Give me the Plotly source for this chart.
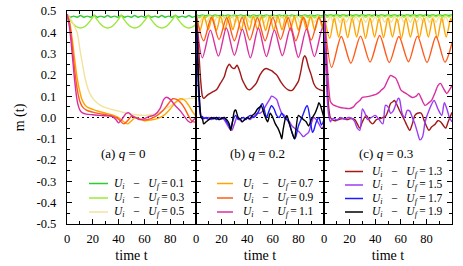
import plotly.graph_objects as go

# ---------------- data ----------------
U_VALUES = [0.1, 0.3, 0.5, 0.7, 0.9, 1.1, 1.3, 1.5, 1.7, 1.9]
PANEL_Q = ["0", "0.2", "0.3"]
X_TICKS = [0, 20, 40, 60, 80]
Y_TICKS = [-0.5, -0.4, -0.3, -0.2, -0.1, 0.0, 0.1, 0.2, 0.3, 0.4, 0.5]
Y_TICKTEXT = ["-0.5", "-0.4", "-0.3", "-0.2", "-0.1", "0.0", "0.1", "0.2", "0.3", "0.4", "0.5"]

T25 = [0, 2.5, 5, 7.5, 10, 12.5, 15, 17.5, 20, 22.5, 25, 27.5, 30, 32.5, 35, 37.5, 40, 42.5, 45, 47.5,
       50, 52.5, 55, 57.5, 60, 62.5, 65, 67.5, 70, 72.5, 75, 77.5, 80, 82.5, 85, 87.5, 90, 92.5, 95, 97.5, 100]

# panel (a) q = 0
a_t_01 = [0, 2.6, 5.2, 7.9, 10.5, 13.1, 15.7, 18.4, 21, 23.6, 26.2, 28.9, 31.5, 34.1, 36.7, 39.4, 42, 44.6, 47.2, 49.9,
          52.5, 55.1, 57.7, 60.4, 63, 65.6, 68.2, 70.9, 73.5, 76.1, 78.7, 81.4, 84, 86.6, 89.2, 91.9, 94.5, 97.1, 100]
a_m_01 = [0.485, 0.471, 0.476, 0.471, 0.479, 0.471, 0.476, 0.471, 0.479, 0.471,
          0.476, 0.471, 0.479, 0.471, 0.476, 0.471, 0.479, 0.471, 0.476, 0.471,
          0.479, 0.471, 0.476, 0.471, 0.479, 0.471, 0.476, 0.471, 0.479, 0.471,
          0.476, 0.471, 0.479, 0.471, 0.476, 0.471, 0.479, 0.471, 0.476]
a_t_03 = [0, 1, 2, 3.5, 5, 7, 10.5, 14, 16, 17.5, 19, 20,
          21, 22, 23, 24.5, 26, 28, 31.5, 35, 37, 38.5, 40, 41,
          42, 43, 44, 45.5, 47, 49, 52.5, 56, 58, 59.5, 61, 62,
          63, 64, 65, 66.5, 68, 70, 73.5, 77, 79, 80.5, 82, 83,
          84, 85, 86, 87.5, 89, 91, 94.5, 98, 100]
a_m_03 = [0.485, 0.471, 0.462, 0.45, 0.439, 0.428, 0.42, 0.428, 0.439, 0.45, 0.462, 0.471,
          0.482, 0.471, 0.462, 0.45, 0.439, 0.428, 0.42, 0.428, 0.439, 0.45, 0.462, 0.471,
          0.482, 0.471, 0.462, 0.45, 0.439, 0.428, 0.42, 0.428, 0.439, 0.45, 0.462, 0.471,
          0.482, 0.471, 0.462, 0.45, 0.439, 0.428, 0.42, 0.428, 0.439, 0.45, 0.462, 0.471,
          0.482, 0.471, 0.462, 0.45, 0.439, 0.428, 0.42, 0.428, 0.439]
a_t_05 = [0, 2, 4, 6, 8, 10, 12, 14, 16, 18, 20, 23, 26, 30, 35, 40, 45, 50, 55, 60, 65, 70, 75, 80, 85, 90, 95, 100]
a_m_05 = [0.485, 0.47, 0.45, 0.425, 0.395, 0.32, 0.25, 0.185, 0.14, 0.11, 0.09, 0.07, 0.057, 0.046,
          0.037, 0.03, 0.022, 0.016, 0.012, 0.01, 0.013, 0.02, 0.035, 0.055, 0.073, 0.085, 0.09, 0.09]
a_t_07 = [0, 2, 4, 6, 8, 10, 12, 15, 20, 25, 30, 35, 40, 43, 47, 50, 53, 56, 60, 65, 70, 75, 80, 84, 88, 91, 94, 97, 100]
a_m_07 = [0.485, 0.45, 0.37, 0.27, 0.18, 0.12, 0.078, 0.052, 0.038, 0.028,
          0.02, 0.012, 0.0, -0.015, -0.03, -0.015, 0.0, -0.005, -0.015, -0.012,
          -0.005, 0.01, 0.04, 0.07, 0.088, 0.082, 0.06, 0.03, 0.005]
a_t_09 = [0, 2, 4, 6, 8, 10, 12, 15, 20, 25, 30, 35, 40, 44, 47, 50, 53, 57, 60, 65, 70, 74, 78, 82, 85, 88, 91, 94, 97, 100]
a_m_09 = [0.485, 0.44, 0.34, 0.22, 0.13, 0.075, 0.05, 0.035, 0.025, 0.018,
          0.013, 0.007, -0.008, -0.03, -0.015, 0.005, 0.0, -0.01, -0.012, -0.005,
          0.01, 0.03, 0.06, 0.088, 0.085, 0.07, 0.045, 0.01, -0.018, -0.022]
a_t_11 = [0, 2, 4, 6, 8, 10, 12, 15, 20, 25, 30, 35, 38, 40, 43, 46, 48, 50, 53, 56,
          60, 64, 68, 72, 75, 77, 80, 84, 88, 91, 94, 96, 98, 100]
a_m_11 = [0.485, 0.42, 0.3, 0.17, 0.075, 0.035, 0.022, 0.016, 0.013, 0.01,
          0.008, 0.004, -0.01, -0.025, -0.005, 0.02, 0.022, 0.01, 0.0, -0.01,
          -0.005, 0.005, 0.012, 0.04, 0.085, 0.095, 0.085, 0.055, 0.03, 0.005,
          -0.018, -0.024, -0.012, 0.0]

# panel (b) q = 0.2
b_m_01 = [0.485, 0.477, 0.482, 0.477, 0.482, 0.476, 0.482, 0.477, 0.482, 0.477,
          0.482, 0.476, 0.482, 0.477, 0.482, 0.477, 0.482, 0.476, 0.482, 0.477,
          0.482, 0.477, 0.482, 0.476, 0.482, 0.477, 0.482, 0.477, 0.482, 0.476,
          0.482, 0.477, 0.482, 0.477, 0.482, 0.476, 0.482, 0.477, 0.482, 0.477,
          0.482]
b_m_03 = [0.485, 0.468, 0.479, 0.469, 0.479, 0.468, 0.479, 0.469, 0.479, 0.468,
          0.479, 0.469, 0.479, 0.468, 0.479, 0.469, 0.479, 0.468, 0.479, 0.469,
          0.479, 0.468, 0.479, 0.469, 0.479, 0.468, 0.479, 0.469, 0.479, 0.468,
          0.479, 0.469, 0.479, 0.468, 0.479, 0.469, 0.479, 0.468, 0.479, 0.469,
          0.479]
b_t_05 = [0, 2.8, 5.6, 8.4, 11.2, 14, 16.8, 19.6, 22.4, 25.2, 28, 30.8, 33.6, 36.4, 39.2, 42, 44.8, 47.6, 50.4,
          53.2, 56, 58.8, 61.6, 64.4, 67.2, 70, 72.8, 75.6, 78.4, 81.2, 84, 86.8, 89.6, 92.4, 95.2, 98, 100]
b_m_05 = [0.485, 0.446, 0.476, 0.447, 0.477, 0.446, 0.476, 0.445, 0.476, 0.447,
          0.477, 0.446, 0.476, 0.445, 0.476, 0.447, 0.477, 0.446, 0.476, 0.445,
          0.476, 0.447, 0.477, 0.446, 0.476, 0.445, 0.476, 0.447, 0.477, 0.446,
          0.476, 0.445, 0.476, 0.447, 0.477, 0.446, 0.46]
b_t_07 = [0, 3.2, 6.4, 9.6, 12.8, 16, 19.2, 22.4, 25.6, 28.8, 32, 35.2, 38.4, 41.6, 44.8, 48, 51.2,
          54.4, 57.6, 60.8, 64, 67.2, 70.4, 73.6, 76.8, 80, 83.2, 86.4, 89.6, 92.8, 96, 99.2, 100]
b_m_07 = [0.485, 0.41, 0.476, 0.412, 0.475, 0.408, 0.476, 0.41, 0.475, 0.412,
          0.476, 0.408, 0.475, 0.41, 0.476, 0.412, 0.475, 0.408, 0.476, 0.41,
          0.475, 0.412, 0.476, 0.408, 0.475, 0.41, 0.476, 0.412, 0.475, 0.408,
          0.476, 0.41, 0.42]
b_t_09 = [0, 6, 12, 18, 24, 30, 36, 42, 48, 54, 60, 66, 72, 78, 84, 90, 96, 100]
b_m_09 = [0.485, 0.36, 0.47, 0.366, 0.468, 0.36, 0.47, 0.364, 0.468, 0.36,
          0.47, 0.366, 0.468, 0.36, 0.47, 0.364, 0.468, 0.41]
b_t_11 = [0, 5, 11.25, 17.5, 23.75, 30, 36.25, 42.5, 48.75, 55, 61.25, 67.5, 73.75, 80, 86.25, 92.5, 98.75, 100]
b_m_11 = [0.485, 0.28, 0.41, 0.288, 0.42, 0.292, 0.415, 0.28, 0.42, 0.286,
          0.41, 0.29, 0.42, 0.282, 0.415, 0.286, 0.42, 0.415]
b_t_13 = [0, 1, 2, 3, 4, 5, 6, 8, 10, 13, 16, 19, 22, 24, 26, 28, 30, 32, 34, 36,
          38, 40, 42, 44, 47, 50, 53, 55, 57, 59, 61, 63, 66, 69, 72, 75, 78, 80, 82, 84,
          85, 86, 88, 90, 92, 94, 97, 100]
b_m_13 = [0.485, 0.42, 0.33, 0.23, 0.15, 0.1, 0.09, 0.1, 0.11, 0.12,
          0.13, 0.16, 0.19, 0.23, 0.25, 0.235, 0.23, 0.245, 0.22, 0.18,
          0.155, 0.135, 0.13, 0.14, 0.16, 0.2, 0.225, 0.23, 0.225, 0.22,
          0.21, 0.2, 0.17, 0.145, 0.13, 0.127, 0.15, 0.17, 0.22, 0.28,
          0.29, 0.28, 0.235, 0.2, 0.16, 0.14, 0.13, 0.125]
b_t_15 = [0, 1, 2, 3, 4, 5, 6, 8, 10, 12, 14, 16, 18, 20, 22, 24, 26, 28, 30, 32,
          34, 36, 38, 40, 42, 44, 46, 48, 50, 52, 54, 56, 58, 59, 61, 63, 65, 67, 69, 71,
          73, 75, 77, 79, 81, 83, 84, 86, 88, 90, 92, 94, 96, 98, 100]
b_m_15 = [0.485, 0.32, 0.15, 0.05, 0.005, -0.01, 0.0, -0.005, 0.0, -0.01,
          -0.005, 0.0, -0.01, -0.005, -0.01, -0.03, -0.05, -0.06, -0.03, 0.0,
          -0.01, -0.02, -0.01, 0.0, -0.01, 0.0, 0.01, 0.02, 0.02, 0.03,
          0.05, 0.07, 0.09, 0.1, 0.095, 0.085, 0.05, 0.02, 0.01, -0.01,
          -0.02, -0.04, -0.05, -0.06, -0.07, -0.085, -0.09, -0.08, -0.07, -0.03,
          0.0, -0.01, -0.03, -0.05, -0.04]
b_t_17 = [0, 1, 2, 3, 4, 5, 6, 8, 10, 12, 14, 16, 18, 20, 22, 24, 26, 27, 29, 31,
          33, 35, 37, 39, 41, 43, 45, 47, 49, 51, 52, 54, 55, 57, 59, 61, 63, 65, 67, 69,
          71, 73, 75, 77, 78, 80, 82, 84, 86, 87, 89, 91, 92, 94, 96, 98, 100]
b_m_17 = [0.485, 0.3, 0.12, 0.03, 0.0, 0.005, -0.005, 0.0, -0.01, -0.005,
          0.0, -0.01, 0.0, -0.005, 0.0, -0.02, -0.04, -0.05, -0.01, 0.01,
          -0.01, -0.005, 0.0, -0.01, 0.005, 0.01, 0.0, 0.01, 0.03, 0.06,
          0.065, 0.02, 0.0, 0.03, 0.055, 0.04, 0.01, 0.0, 0.02, 0.0,
          -0.01, -0.03, -0.07, -0.1, -0.09, -0.04, -0.01, 0.02, 0.05, 0.055,
          0.0, -0.07, -0.06, -0.02, 0.0, -0.035, -0.01]
b_t_19 = [0, 1, 2, 3, 4, 5, 6, 8, 10, 12, 14, 16, 18, 20, 22, 24, 26, 27, 28, 30,
          31, 33, 35, 36, 38, 40, 42, 44, 46, 48, 50, 51, 53, 55, 56, 58, 60, 62, 64, 66,
          67, 68, 70, 71, 73, 75, 77, 78, 80, 82, 84, 86, 88, 90, 92, 93, 95, 96, 97, 99, 100]
b_m_19 = [0.485, 0.35, 0.18, 0.06, 0.0, -0.005, -0.03, -0.02, -0.01, 0.0,
          -0.005, 0.0, -0.01, -0.005, 0.0, -0.01, -0.03, -0.06, -0.04, 0.03,
          0.035, 0.0, -0.01, -0.02, -0.01, 0.0, -0.005, 0.01, 0.02, 0.04,
          0.05, 0.055, 0.02, -0.01, -0.02, 0.02, 0.0, -0.03, -0.05, -0.08,
          -0.1, -0.06, 0.0, 0.01, -0.03, -0.07, -0.1, -0.06, 0.01, 0.0,
          -0.01, -0.02, -0.04, -0.01, 0.01, 0.02, 0.05, 0.07, 0.06, 0.02, 0.0]

# panel (c) q = 0.3
c_m_01 = [0.485, 0.479, 0.483, 0.479, 0.483, 0.478, 0.483, 0.479, 0.483, 0.479,
          0.483, 0.478, 0.483, 0.479, 0.483, 0.479, 0.483, 0.478, 0.483, 0.479,
          0.483, 0.479, 0.483, 0.478, 0.483, 0.479, 0.483, 0.479, 0.483, 0.478,
          0.483, 0.479, 0.483, 0.479, 0.483, 0.478, 0.483, 0.479, 0.483, 0.479,
          0.483]
c_m_03 = [0.485, 0.471, 0.481, 0.472, 0.481, 0.471, 0.481, 0.472, 0.481, 0.471,
          0.481, 0.472, 0.481, 0.471, 0.481, 0.472, 0.481, 0.471, 0.481, 0.472,
          0.481, 0.471, 0.481, 0.472, 0.481, 0.471, 0.481, 0.472, 0.481, 0.471,
          0.481, 0.472, 0.481, 0.471, 0.481, 0.472, 0.481, 0.471, 0.481, 0.472,
          0.481]
c_m_05 = [0.485, 0.446, 0.474, 0.447, 0.474, 0.446, 0.474, 0.447, 0.474, 0.446,
          0.474, 0.447, 0.474, 0.446, 0.474, 0.447, 0.474, 0.446, 0.474, 0.447,
          0.474, 0.446, 0.474, 0.447, 0.474, 0.446, 0.474, 0.447, 0.474, 0.446,
          0.474, 0.447, 0.474, 0.446, 0.474, 0.447, 0.474, 0.446, 0.474, 0.447,
          0.474]
c_t_07 = [0, 4.5, 8, 11.5, 15, 18.5, 22, 25.5, 29, 32.5, 36, 39.5, 43, 46.5, 50, 53.5, 57, 60.5, 64, 67.5,
          71, 74.5, 78, 81.5, 85, 88.5, 92, 95.5, 99, 100]
c_m_07 = [0.485, 0.372, 0.466, 0.378, 0.464, 0.375, 0.466, 0.378, 0.464, 0.372,
          0.466, 0.378, 0.464, 0.375, 0.466, 0.378, 0.464, 0.372, 0.466, 0.378,
          0.464, 0.375, 0.466, 0.378, 0.464, 0.372, 0.466, 0.378, 0.464, 0.45]
c_t_09 = [0, 6, 13.5, 21, 28.5, 36, 43.5, 51, 58.5, 66, 73, 80.5, 87.5, 94.5, 100]
c_m_09 = [0.485, 0.235, 0.38, 0.255, 0.382, 0.26, 0.385, 0.258, 0.38, 0.262, 0.382, 0.258, 0.38, 0.26, 0.35]
c_t_11 = [0, 1, 2, 3, 4, 5, 7, 9, 12, 16, 20, 23, 25, 28, 30, 34, 38, 41, 43, 45,
          47, 49, 51, 52, 54, 56, 58, 60, 62, 64, 66, 69, 72, 74, 76, 79, 82, 84, 87, 89,
          91, 93, 96, 98, 100]
c_m_11 = [0.485, 0.4, 0.3, 0.2, 0.12, 0.075, 0.06, 0.055, 0.048, 0.044,
          0.042, 0.05, 0.065, 0.08, 0.094, 0.098, 0.104, 0.11, 0.118, 0.13,
          0.14, 0.165, 0.19, 0.198, 0.192, 0.185, 0.16, 0.13, 0.12, 0.113,
          0.105, 0.094, 0.1, 0.113, 0.09, 0.057, 0.07, 0.08, 0.12, 0.15,
          0.16, 0.14, 0.113, 0.13, 0.15]
c_t_13 = [0, 1, 2, 3, 4, 5, 7, 9, 12, 15, 18, 21, 24, 26, 28, 30, 33, 36, 38, 41,
          44, 46, 48, 50, 52, 54, 55, 57, 59, 61, 63, 65, 67, 69, 71, 73, 76, 78, 80, 82,
          84, 87, 89, 91, 93, 95, 97, 100]
c_m_13 = [0.485, 0.36, 0.22, 0.1, 0.03, 0.0, -0.012, -0.015, -0.008, -0.005,
          -0.01, -0.005, -0.01, -0.03, -0.05, -0.02, 0.01, -0.02, -0.03, -0.01,
          -0.005, 0.0, 0.005, 0.03, 0.066, 0.075, 0.08, 0.06, 0.033, 0.01,
          -0.014, -0.04, -0.06, -0.03, 0.01, 0.02, 0.02, -0.01, -0.04, -0.06,
          -0.045, -0.03, -0.015, -0.02, -0.035, -0.05, -0.02, 0.024]
c_t_15 = [0, 1, 2, 3, 4, 5, 6, 8, 10, 13, 16, 19, 22, 24, 26, 28, 30, 32, 34, 37,
          40, 43, 46, 48, 50, 52, 54, 56, 58, 59, 61, 63, 65, 67, 69, 71, 73, 75, 77, 79,
          82, 86, 89, 92, 94, 96, 98, 100]
c_m_15 = [0.485, 0.33, 0.16, 0.05, 0.0, -0.02, -0.01, -0.005, -0.012, 0.0,
          -0.008, 0.0, -0.005, -0.02, -0.05, -0.06, 0.04, 0.02, -0.01, 0.0,
          0.01, -0.01, -0.03, 0.057, 0.05, 0.02, 0.03, 0.06, 0.09, 0.085,
          0.02, 0.0, 0.033, 0.03, 0.0, -0.03, -0.07, -0.105, -0.09, -0.02,
          0.033, 0.08, 0.04, 0.01, 0.07, 0.04, 0.0, -0.02]

COLORS = {0.1: "#2fcc2f", 0.3: "#9be83a", 0.5: "#f3e29a", 0.7: "#ffa500", 0.9: "#ff5a1a",
          1.1: "#d8309f", 1.3: "#a01818", 1.5: "#9b3cf5", 1.7: "#1c1cff", 1.9: "#000000"}

PANELS = [
    [(0.1, a_t_01, a_m_01), (0.3, a_t_03, a_m_03), (0.5, a_t_05, a_m_05),
     (0.7, a_t_07, a_m_07), (0.9, a_t_09, a_m_09), (1.1, a_t_11, a_m_11)],
    [(0.1, T25, b_m_01), (0.3, T25, b_m_03), (0.5, b_t_05, b_m_05), (0.7, b_t_07, b_m_07),
     (0.9, b_t_09, b_m_09), (1.1, b_t_11, b_m_11), (1.3, b_t_13, b_m_13), (1.5, b_t_15, b_m_15),
     (1.7, b_t_17, b_m_17), (1.9, b_t_19, b_m_19)],
    [(0.1, T25, c_m_01), (0.3, T25, c_m_03), (0.5, T25, c_m_05), (0.7, c_t_07, c_m_07),
     (0.9, c_t_09, c_m_09), (1.1, c_t_11, c_m_11), (1.3, c_t_13, c_m_13), (1.5, c_t_15, c_m_15)],
]
LEGEND_GROUPS = [[0.1, 0.3, 0.5], [0.7, 0.9, 1.1], [1.3, 1.5, 1.7, 1.9]]

# ---------------- layout geometry (pixels) ----------------
W, H = 463, 266
ML, MR, MT, MB = 67, 11, 11, 42
PW, PH = W - ML - MR, H - MT - MB
BOUNDS = [67, 196, 324, 452]


def fx(px):
    return (px - ML) / PW


def fy(py):
    return (H - MB - py) / PH


FONT = "'Liberation Serif', 'Times New Roman', 'DejaVu Serif', serif"
fig = go.Figure()

for p, curves in enumerate(PANELS):
    xa = "x" if p == 0 else f"x{p + 1}"
    ya = "y" if p == 0 else f"y{p + 1}"
    for u, t, m in curves:
        assert len(t) == len(m), (p, u, len(t), len(m))
        fig.add_trace(go.Scatter(
            x=t, y=m, mode="lines", xaxis=xa, yaxis=ya, showlegend=False, hoverinfo="skip",
            line=dict(color=COLORS[u], width=1.4, shape="spline", smoothing=0.8)))

common_x = dict(range=[0, 100], showline=True, linecolor="black", linewidth=1.3, mirror="ticks",
                ticks="inside", ticklen=5, tickwidth=1, tickcolor="black", showgrid=False,
                zeroline=False, tickmode="array", tickvals=X_TICKS, ticktext=[str(v) for v in X_TICKS],
                minor=dict(tickmode="array", tickvals=[10, 30, 50, 70, 90], ticks="inside",
                           ticklen=3, tickwidth=1, tickcolor="black", showgrid=False),
                ticklabelstandoff=3, tickfont=dict(size=12.5),
                title=dict(text="time t", font=dict(size=14), standoff=5))
common_y = dict(range=[-0.5, 0.5], showline=True, linecolor="black", linewidth=1.3, mirror="ticks",
                ticks="inside", ticklen=5, tickwidth=1, tickcolor="black", showgrid=False,
                zeroline=False, tickmode="array", tickvals=Y_TICKS, ticktext=Y_TICKTEXT,
                minor=dict(tickmode="array",
                           tickvals=[-0.45, -0.35, -0.25, -0.15, -0.05, 0.05, 0.15, 0.25, 0.35, 0.45],
                           ticks="inside", ticklen=3, tickwidth=1, tickcolor="black", showgrid=False),
                tickfont=dict(size=12.5))

layout = dict(width=W, height=H, margin=dict(l=ML, r=MR, t=MT, b=MB, autoexpand=False),
              paper_bgcolor="white", plot_bgcolor="white", showlegend=False,
              font=dict(family=FONT, size=12.5, color="black"))
for p in range(3):
    dom = [fx(BOUNDS[p]), fx(BOUNDS[p + 1])]
    xk = "xaxis" if p == 0 else f"xaxis{p + 1}"
    yk = "yaxis" if p == 0 else f"yaxis{p + 1}"
    xa = "x" if p == 0 else f"x{p + 1}"
    ya = "y" if p == 0 else f"y{p + 1}"
    layout[xk] = dict(common_x, domain=dom, anchor=ya)
    yd = dict(common_y, domain=[0, 1], anchor=xa)
    if p == 0:
        yd["ticklabelstandoff"] = 7
        yd["title"] = dict(text="m (t)", font=dict(size=14), standoff=8)
    else:
        yd["showticklabels"] = False
        yd["matches"] = "y"
    layout[yk] = yd
fig.update_layout(**layout)

shapes = []
annotations = []
# dotted zero reference line in each panel
for p in range(3):
    xa = "x" if p == 0 else f"x{p + 1}"
    ya = "y" if p == 0 else f"y{p + 1}"
    shapes.append(dict(type="line", xref=f"{xa} domain", yref=ya, x0=0, x1=1, y0=0, y1=0,
                       line=dict(color="black", width=1.1, dash="2px,3px"), layer="below"))

# panel labels
LABEL_POS = [(123, 153), (257, 153), (386, 153)]
for p, (lx, ly) in enumerate(LABEL_POS):
    annotations.append(dict(xref="paper", yref="paper", x=fx(lx), y=fy(ly), xanchor="center",
                            yanchor="middle", showarrow=False,
                            text=f"({'abc'[p]})\u00a0<i>q</i>\u00a0=\u00a0{PANEL_Q[p]}",
                            font=dict(family=FONT, size=13)))

# legends (per panel)
LEG_GEOM = [  # line x0, line x1, text x, row y's
    (89, 108, 112, [183.5, 198, 212]),
    (217, 233, 241, [183.5, 198, 212]),
    (345, 363, 370, [171.5, 185, 198.5, 212]),
]
SP = "\u00a0\u00a0\u00a0"
for group, (lx0, lx1, tx, rows) in zip(LEGEND_GROUPS, LEG_GEOM):
    for u, ry in zip(group, rows):
        shapes.append(dict(type="line", xref="paper", yref="paper", x0=fx(lx0), x1=fx(lx1),
                           y0=fy(ry), y1=fy(ry), line=dict(color=COLORS[u], width=1.5)))
        annotations.append(dict(xref="paper", yref="paper", x=fx(tx), y=fy(ry), xanchor="left",
                                yanchor="middle", showarrow=False,
                                text=f"<i>U</i><sub><i>i</i></sub>{SP}\u2212{SP}<i>U</i><sub><i>f</i></sub>\u2009=\u2009{u}",
                                font=dict(family=FONT, size=11.5)))

fig.update_layout(shapes=shapes, annotations=annotations)
fig.write_html("out.html", config={"displayModeBar": False},
               post_script="document.documentElement.style.margin='0';document.body.style.margin='0';document.body.style.padding='0';")
